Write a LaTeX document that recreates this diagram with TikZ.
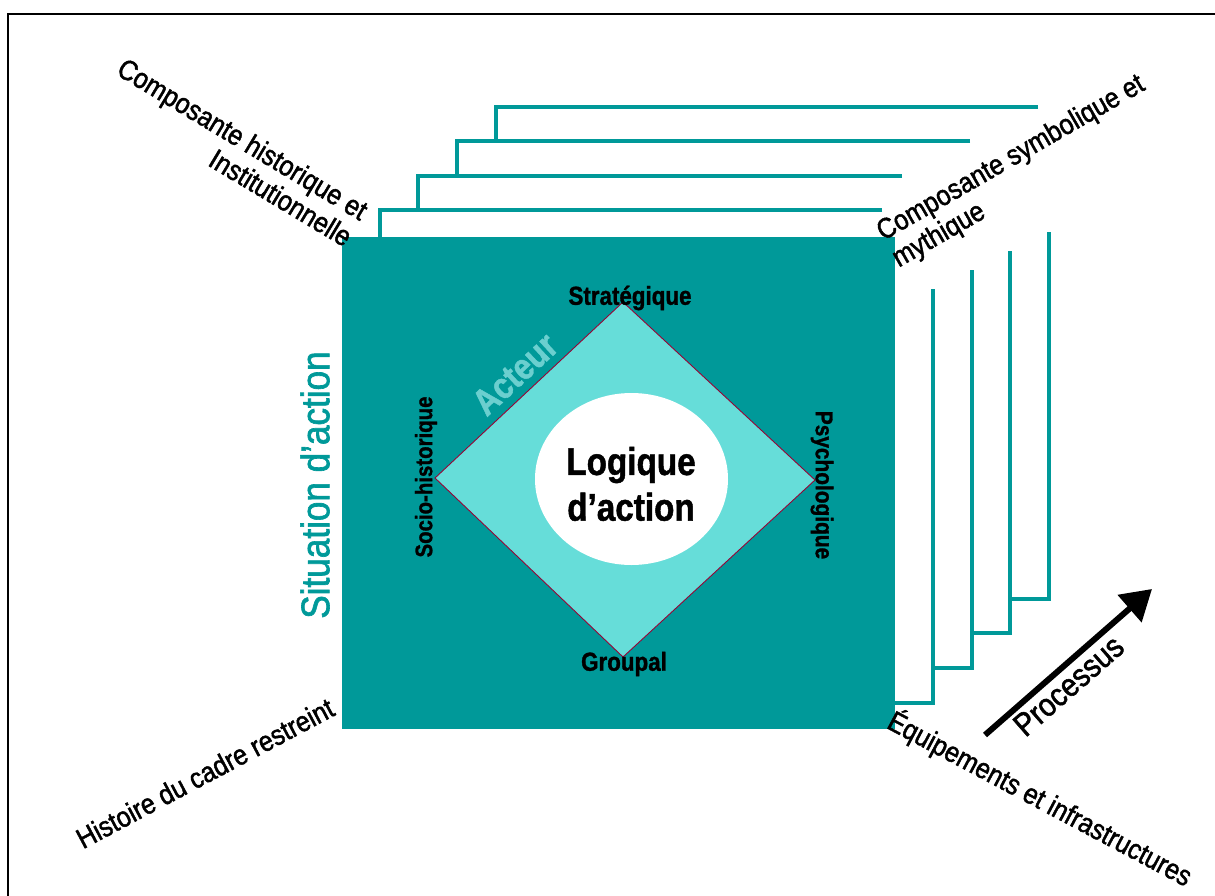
\documentclass[tikz,border=0pt]{standalone}
\usepackage{fontspec}
\setmainfont{Liberation Sans}
\newfontfamily\condfont[FakeStretch=0.88, FakeBold=1.6]{Liberation Sans}
\newfontfamily\condbold[FakeStretch=0.86, FakeBold=1.2]{Liberation Sans}
\usetikzlibrary{arrows.meta}
\definecolor{sitteal}{HTML}{009999}
\definecolor{actlight}{HTML}{66DDD9}
\definecolor{actlabel}{HTML}{6BCFCF}
\definecolor{edgered}{HTML}{990033}
\tikzset{
  framelines/.style={draw=sitteal, line width=1.8pt},
  cornerlabel/.style={font=\condfont\fontsize{16.2}{17.5}\selectfont, inner sep=0pt},
  polelabel/.style={font=\condbold\bfseries\fontsize{14.8}{16}\selectfont, inner sep=0pt},
  procarrow/.style={line width=3.4pt, -{Triangle[length=17pt, width=20pt]}},
}
\begin{document}
\begin{tikzpicture}[x=0.2mm, y=-0.2mm]
\useasboundingbox (0,0) rectangle (1215,896);
\draw[line width=1.2pt] (8,14) rectangle (1240,920);

% frames stacked behind the situation
\foreach \l/\t/\r/\b/\te/\rs/\tp/\rp in {
    380/210/933/703/882/289/237/895,
    418/176/972/668/902/270/210/933,
    457/141/1010/633/970/251/176/972,
    496/107/1049/599/1038/232/141/1010}{
  \draw[framelines] (\te,\t) -- (\l,\t) -- (\l,\tp);
  \draw[framelines] (\r,\rs) -- (\r,\b) -- (\rp,\b);
}

\fill[sitteal] (342,237) rectangle (895,729);
\filldraw[fill=actlight, draw=edgered, line width=0.5pt]
  (623,302) -- (815,480) -- (623,657) -- (435,478) -- cycle;
\fill[white] (631.5,479) ellipse [x radius=96.5, y radius=86];

\node[font=\condbold\bfseries\fontsize{22}{26}\selectfont, align=center] (logique) at (631,484) {Logique\\d’action};
\node[polelabel] (strat) at (630,298) {Stratégique};
\node[polelabel] (groupal) at (624,664) {Groupal};
\node[polelabel, rotate=90, font=\condbold\bfseries\fontsize{13.5}{14}\selectfont] (socio) at (426,477) {Socio-historique};
\node[polelabel, rotate=-90, font=\condbold\bfseries\fontsize{13.8}{14}\selectfont] (psycho) at (822,485) {Psychologique};
\node[text=actlabel, font=\condbold\bfseries\fontsize{21}{22}\selectfont, rotate=43, inner sep=0pt] (acteur) at (515,374) {Acteur};

\node[text=sitteal, font=\condfont\fontsize{22.7}{26}\selectfont, rotate=90, inner sep=0pt] (situation) at (315,485) {Situation d’action};

\node[cornerlabel, align=right, rotate=-31] (histinst) at (235,152) {Composante historique et\\Institutionnelle};
\node[cornerlabel, align=left, rotate=30] (symbmyth) at (1019,172) {Composante symbolique et\\mythique};
\node[cornerlabel, rotate=28] (cadre) at (205,773) {Histoire du cadre restreint};
\node[cornerlabel, rotate=-28] (equip) at (1040,799) {Équipements et infrastructures};

\coordinate (ptail) at (985,735);
\coordinate (phead) at (1152,589);
\draw[procarrow] (ptail) -- (phead)
  node[pos=0.43, below=2pt, sloped, font=\condfont\fontsize{18.5}{20}\selectfont, inner sep=0pt] (processus) {Processus};
\end{tikzpicture}
\end{document}
